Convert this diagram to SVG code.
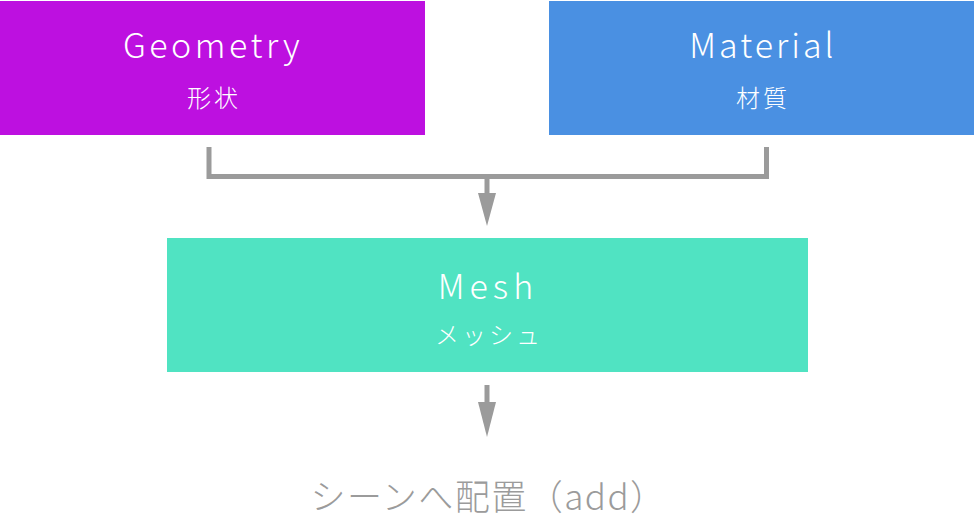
<svg xmlns="http://www.w3.org/2000/svg" width="974" height="516" viewBox="0 0 974 516">
<defs>
<style>
.t{font-family:"Noto Sans CJK JP","Noto Sans",sans-serif;fill:#fff;text-anchor:middle;font-weight:300}
.big{font-size:34px}
.sm{font-size:24px;letter-spacing:3px}
.c{fill:none;stroke:#9b9b9b;stroke-width:5}
</style>
</defs>
<rect width="974" height="516" fill="#fff"/>
<g id="geometry">
<rect x="0" y="1" width="425" height="134" fill="#bd10e0"/>
<text class="t big" x="213" y="58" style="letter-spacing:3.5px">Geometry</text>
<text class="t sm" x="214" y="107">形状</text>
</g>
<g id="material">
<rect x="549" y="1" width="425" height="134" fill="#4a90e2"/>
<text class="t big" x="763" y="58" style="letter-spacing:3px">Material</text>
<text class="t sm" x="763" y="107">材質</text>
</g>
<g id="mesh">
<rect x="167" y="238" width="641" height="134" fill="#50e3c2"/>
<text class="t big" x="488" y="299" style="letter-spacing:5px">Mesh</text>
<text class="t sm" x="489" y="344">メッシュ</text>
</g>
<g id="scene">
<text class="t" x="488.5" y="510" style="fill:#9b9b9b;font-size:35px;letter-spacing:1.5px">シーンへ配置（add）</text>
</g>
<g id="connectors">
<path class="c" d="M209,147 V176.5 H766.5 V147"/>
<path class="c" d="M487,176 V193"/>
<path d="M478,193 L496,193 L487,226 Z" fill="#9b9b9b"/>
<path class="c" d="M487,385 V403"/>
<path d="M478,402 L496,402 L487,437 Z" fill="#9b9b9b"/>
</g>
</svg>
